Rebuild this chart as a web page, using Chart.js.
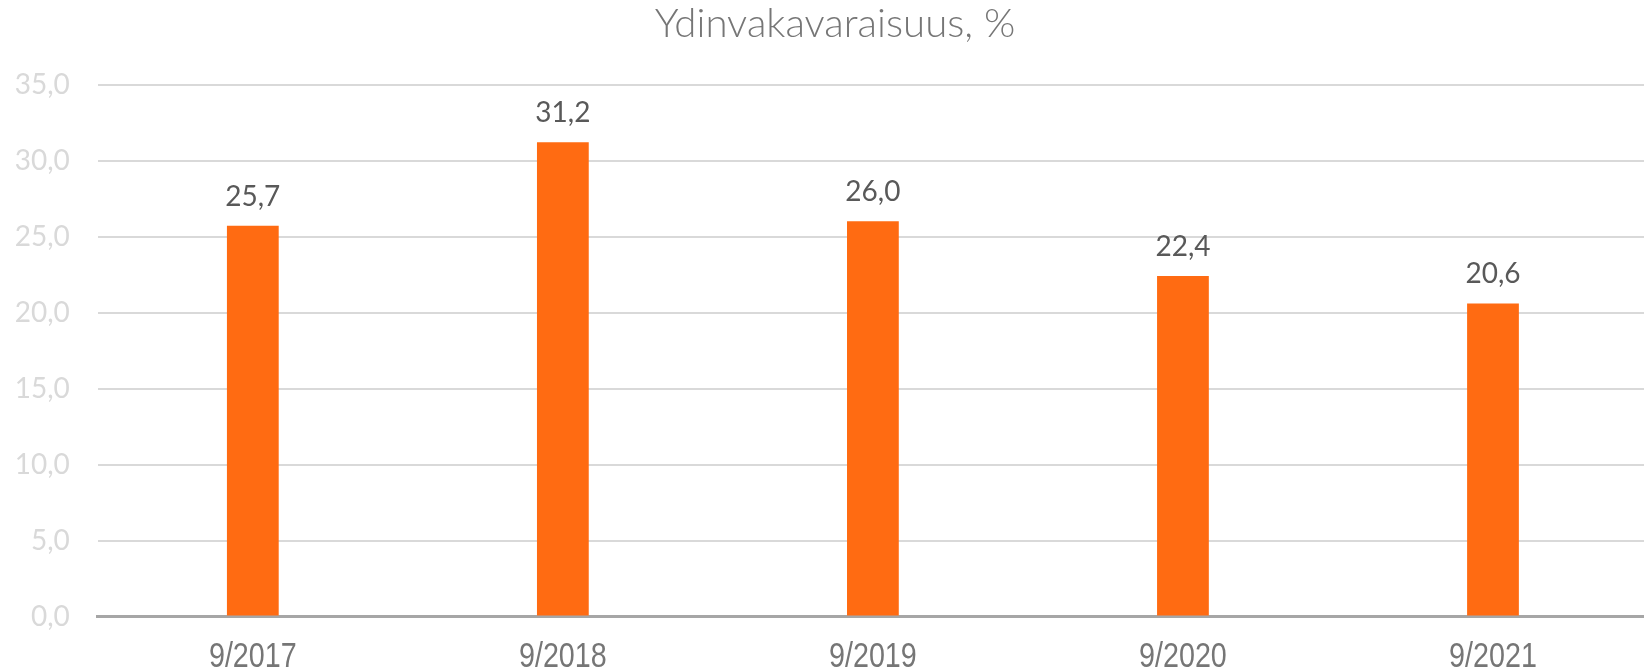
<!DOCTYPE html>
<html>
<head>
<meta charset="utf-8">
<script src="https://cdn.jsdelivr.net/npm/chart.js@4/dist/chart.umd.min.js"></script>
<style>
  html, body { margin: 0; padding: 0; background: #ffffff; overflow: hidden; }
  #wrap { width: 1644px; height: 671px; position: relative; overflow: hidden; }
</style>
</head>
<body>
<div id="wrap"><canvas id="c" width="1648" height="671"></canvas></div>
<script>
// ---- Data ----
const chartTitle = 'Ydinvakavaraisuus, %';
const categories = ['9/2017', '9/2018', '9/2019', '9/2020', '9/2021'];
const values = [25.7, 31.2, 26.0, 22.4, 20.6];
const yTickLabels = ['0,0', '5,0', '10,0', '15,0', '20,0', '25,0', '30,0', '35,0'];
const yMin = 0;
const yMax = 35;
const yStep = 5;

// ---- Styles ----
const barColor = '#FF6B12';
const titleColor = '#767676';
const xLabelColor = '#767676';
const yLabelColor = '#D9D9D9';
const valueLabelColor = '#595959';
const gridColor = '#D9D9D9';
const axisColor = '#A6A6A6';
const baseFont = 'Lato, "Open Sans", sans-serif';

const decorPlugin = {
  id: 'decor',
  afterDraw(chart) {
    const ctx = chart.ctx;
    // title
    ctx.save();
    ctx.font = '300 40.2px ' + baseFont;
    ctx.fillStyle = titleColor;
    ctx.textAlign = 'center';
    ctx.textBaseline = 'middle';
    ctx.fillText(chartTitle, 835, 24);
    ctx.restore();

    // condensed category labels, positioned by the x scale
    const xs = chart.scales.x;
    ctx.save();
    ctx.font = '35px "Liberation Sans", Arial, sans-serif';
    ctx.fillStyle = xLabelColor;
    ctx.textAlign = 'center';
    ctx.textBaseline = 'middle';
    categories.forEach((lab, i) => {
      const px = xs.getPixelForTick(i);
      ctx.save();
      ctx.translate(px, 657);
      ctx.scale(0.82, 1);
      ctx.fillText(lab, 0, 0);
      ctx.restore();
    });
    ctx.restore();
  },
  afterDatasetsDraw(chart) {
    const ctx = chart.ctx;
    const meta = chart.getDatasetMeta(0);
    ctx.save();
    ctx.font = '28px ' + baseFont;
    ctx.fillStyle = valueLabelColor;
    ctx.textAlign = 'center';
    ctx.textBaseline = 'middle';
    meta.data.forEach((bar, i) => {
      const txt = values[i].toFixed(1).replace('.', ',');
      ctx.fillText(txt, bar.x, bar.y - 29);
    });
    ctx.restore();
  }
};

new Chart(document.getElementById('c'), {
  type: 'bar',
  data: {
    labels: categories,
    datasets: [{
      data: values,
      backgroundColor: barColor,
      borderWidth: 0,
      barPercentage: 0.167,
      categoryPercentage: 1.0
    }]
  },
  options: {
    responsive: false,
    animation: false,
    devicePixelRatio: 1,
    layout: { padding: { left: 0, right: 0, top: 84.5, bottom: 0 } },
    plugins: {
      legend: { display: false },
      tooltip: { enabled: false },
      title: { display: false }
    },
    scales: {
      x: {
        grid: { display: false, drawTicks: false },
        border: { display: true, color: axisColor, width: 3 },
        ticks: { display: false },
        afterFit(scale) { scale.height = 54.5; }
      },
      y: {
        min: yMin,
        max: yMax,
        grid: { color: gridColor, lineWidth: 2, drawTicks: false },
        border: { display: false },
        ticks: {
          stepSize: yStep,
          color: yLabelColor,
          font: { family: baseFont, size: 28 },
          padding: 28,
          callback: (v, i) => yTickLabels[i]
        },
        afterFit(scale) { scale.width = 97.8; }
      }
    }
  },
  plugins: [decorPlugin]
});
</script>
</body>
</html>
